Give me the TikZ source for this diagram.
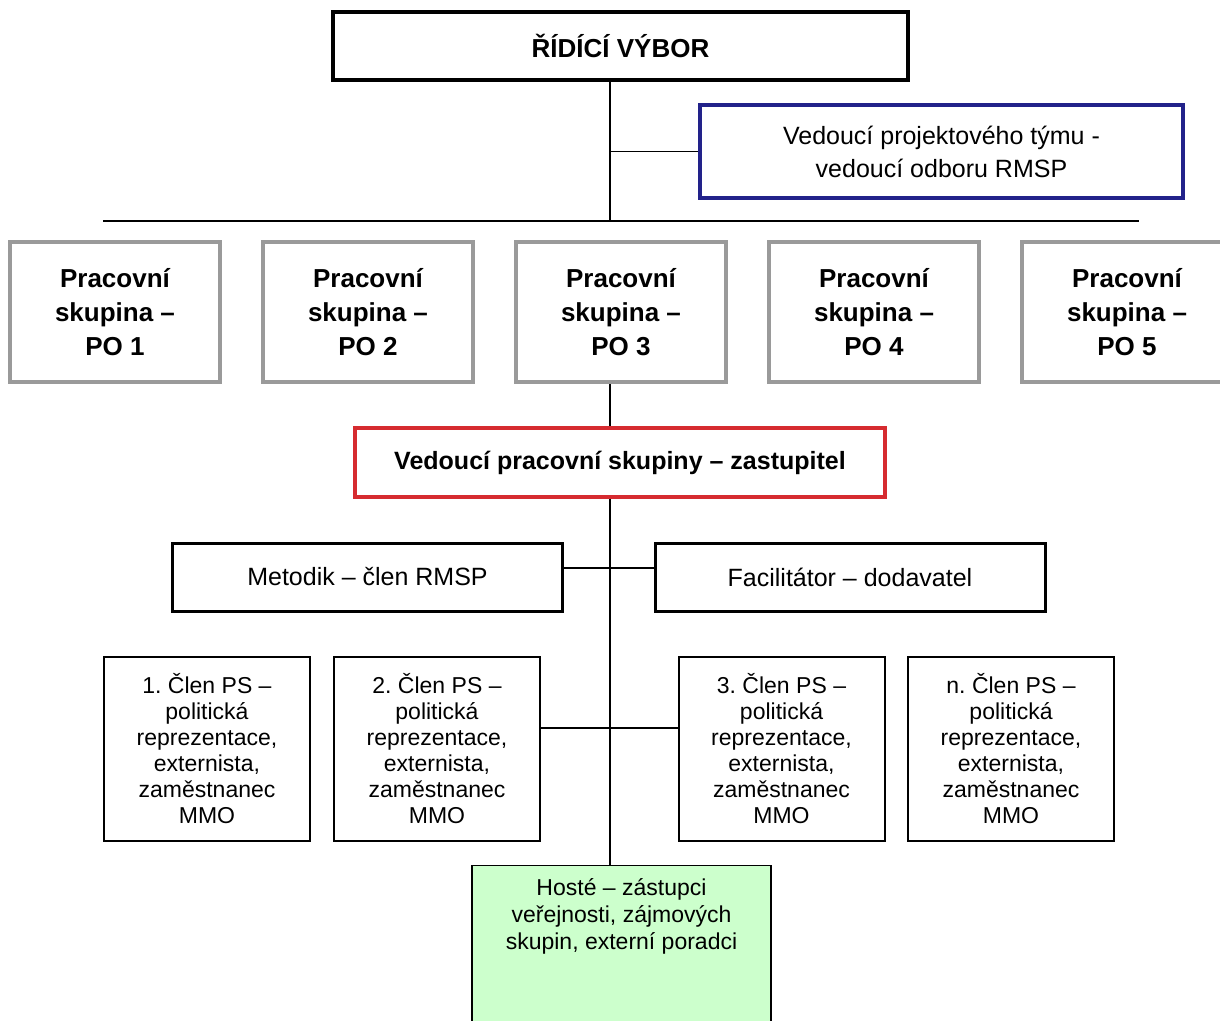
\documentclass[tikz,border=0pt]{standalone}
\usepackage{fontspec}
\setmainfont{Liberation Sans}
\frenchspacing

\definecolor{pogray}{HTML}{9A9A9A}
\definecolor{tymblue}{HTML}{22228A}
\definecolor{vedred}{HTML}{D62B30}
\definecolor{hostgreen}{HTML}{CCFFCC}

\tikzset{
  box/.style={draw, rectangle, align=center, inner sep=2pt},
  ridbox/.style={box, line width=4pt, minimum width=575pt, minimum height=68pt,
    font={\fontsize{26}{32}\selectfont\bfseries}},
  tymbox/.style={box, draw=tymblue, line width=3.5pt, minimum width=483pt, minimum height=93pt,
    font={\fontsize{25}{33}\selectfont}},
  pobox/.style={box, draw=pogray, line width=4pt, minimum width=210pt, minimum height=140pt,
    font={\fontsize{26}{34}\selectfont\bfseries}},
  vedbox/.style={box, draw=vedred, line width=3.5pt, minimum width=530pt, minimum height=69pt,
    font={\fontsize{25}{30}\selectfont\bfseries}},
  rolebox/.style={box, line width=3pt, minimum width=390pt, minimum height=68pt,
    font={\fontsize{25}{30}\selectfont}},
  clenbox/.style={box, line width=2pt, minimum width=206pt, minimum height=184pt,
    font={\fontsize{23}{26}\selectfont}},
  hostbox/.style={box, fill=hostgreen, line width=1.5pt, minimum width=299pt, anchor=north,
    inner ysep=13pt, text depth=150pt, font={\fontsize{23}{27}\selectfont}},
  link/.style={line width=1.5pt}
}

\begin{document}
\begin{tikzpicture}
  \begin{scope}[x=1pt, y=-1pt]
    \clip (0,0) rectangle (1220,1020);
    \fill[white] (0,0) rectangle (1220,1020);

    % Top level
    \node[ridbox] (vybor) at (620.5,46) {ŘÍDÍCÍ VÝBOR};
    \node[tymbox] (vedtym) at (941.5,151.5) {Vedoucí projektového týmu -\\vedoucí odboru RMSP};

    \coordinate (bus) at (610,221);
    \coordinate (busl) at (103,221);
    \coordinate (busr) at (1139,221);

    % Working groups
    \node[pobox] (po1) at (115,312) {Pracovní\\skupina –\\PO 1};
    \node[pobox] (po2) at (368,312) {Pracovní\\skupina –\\PO 2};
    \node[pobox] (po3) at (621,312) {Pracovní\\skupina –\\PO 3};
    \node[pobox] (po4) at (874,312) {Pracovní\\skupina –\\PO 4};
    \node[pobox] (po5) at (1127,312) {Pracovní\\skupina –\\PO 5};

    \node[vedbox] (vedps) at (620,462.5) {Vedoucí pracovní skupiny – zastupitel};

    \node[rolebox] (metodik) at (367.5,577) {Metodik – člen RMSP};
    \node[rolebox] (facil) at (850,577) {Facilitátor – dodavatel};
    \coordinate (mf) at (610,568);

    % Members
    \node[clenbox] (clen1) at (207,749) {1. Člen PS –\\politická\\reprezentace,\\externista,\\zaměstnanec\\MMO};
    \node[clenbox] (clen2) at (437,749) {2. Člen PS –\\politická\\reprezentace,\\externista,\\zaměstnanec\\MMO};
    \node[clenbox] (clen3) at (781.5,749) {3. Člen PS –\\politická\\reprezentace,\\externista,\\zaměstnanec\\MMO};
    \node[clenbox] (clenn) at (1011,749) {n. Člen PS –\\politická\\reprezentace,\\externista,\\zaměstnanec\\MMO};
    \coordinate (cl) at (610,728);

    \node[hostbox] (hoste) at (621.5,864.5) {Hosté – zástupci\\veřejnosti, zájmových\\skupin, externí poradci};

    % Connectors
    \draw[link] (vybor.south -| bus) -- (bus);
    \draw[link] (vedtym.west -| bus) -- (vedtym.west);
    \draw[link] (busl) -- (busr);
    \draw[link] (po3.south -| bus) -- (vedps.north -| bus);
    \draw[link] (vedps.south -| bus) -- (hoste.north -| bus);
    \draw[link] (mf -| metodik.east) -- (mf -| facil.west);
    \draw[link] (cl -| clen2.east) -- (cl -| clen3.west);
  \end{scope}
\end{tikzpicture}
\end{document}
